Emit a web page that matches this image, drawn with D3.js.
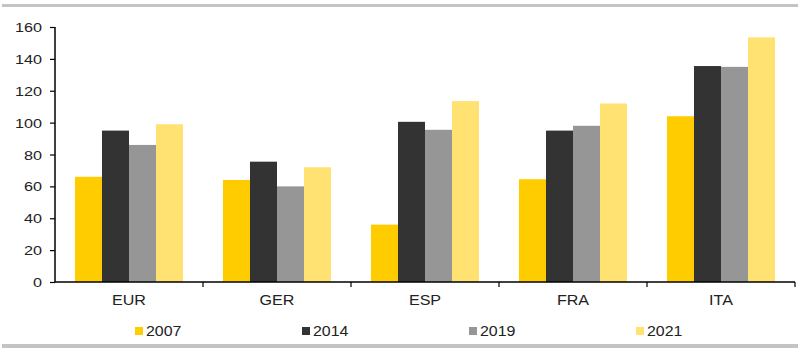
<!DOCTYPE html>
<html>
<head>
<meta charset="utf-8">
<script src="https://cdn.jsdelivr.net/npm/d3@7"></script>
<style>
  html, body { margin: 0; padding: 0; background: #fff; }
  svg { display: block; font-family: "Liberation Sans", Arial, Helvetica, sans-serif; }
</style>
</head>
<body>
<svg id="chart" width="800" height="350"></svg>
<script>
const categories = ["EUR", "GER", "ESP", "FRA", "ITA"];
const seriesNames = ["2007", "2014", "2019", "2021"];
const values2007 = [66, 64, 36, 64.5, 104];
const values2014 = [95, 75.5, 100.5, 95, 135.5];
const values2019 = [86, 60, 95.5, 98, 135];
const values2021 = [99, 72, 113.5, 112, 153.5];
const yTicks = [0, 20, 40, 60, 80, 100, 120, 140, 160];
const colors = ["#FFCC00", "#333333", "#969696", "#FFE271"];

const seriesValues = [values2007, values2014, values2019, values2021];

const svg = d3.select("#chart");
const plotBottom = 282, plotTop = 27, plotLeft = 55, plotRight = 795;

// top and bottom gray rules
svg.append("rect").attr("x", 2).attr("y", 4).attr("width", 796).attr("height", 3).attr("fill", "#c4c4c4");
svg.append("rect").attr("x", 2).attr("y", 344).attr("width", 796).attr("height", 4).attr("fill", "#c4c4c4");

const x0 = d3.scaleBand().domain(categories).range([plotLeft, plotRight]).paddingInner(0).paddingOuter(0);
const groupW = x0.bandwidth() * 0.73;
const x1 = d3.scaleBand().domain(seriesNames).range([0, groupW]).padding(0);
const y = d3.scaleLinear().domain([0, 160]).range([plotBottom, plotTop]);

// bars
seriesNames.forEach((s, si) => {
  svg.append("g").selectAll("rect")
    .data(categories.map((c, ci) => ({ c, v: seriesValues[si][ci] })))
    .join("rect")
    .attr("x", d => x0(d.c) + (x0.bandwidth() - groupW) / 2 + x1(s))
    .attr("y", d => y(d.v))
    .attr("width", x1.bandwidth())
    .attr("height", d => y(0) - y(d.v))
    .attr("fill", colors[si]);
});

// y axis
const yAxis = svg.append("g")
  .attr("transform", `translate(${plotLeft},0)`)
  .call(d3.axisLeft(y).tickValues(yTicks).tickSize(5).tickPadding(8).tickFormat(d3.format("d")));
yAxis.select(".domain").attr("stroke", "#000").attr("stroke-width", 1.5).attr("d", `M0,${plotTop}V${plotBottom}`);
yAxis.selectAll(".tick line").attr("stroke", "#000").attr("stroke-width", 1.2);
yAxis.selectAll("text")
  .attr("font-size", 13.5).attr("fill", "#222")
  .attr("x", null).attr("dy", null)
  .attr("transform", "translate(-13,4.5) scale(1.2,1)");

// x axis with ticks at category boundaries
const xAxisG = svg.append("g").attr("transform", `translate(0,${plotBottom})`);
xAxisG.append("line").attr("x1", plotLeft).attr("x2", plotRight).attr("stroke", "#000").attr("stroke-width", 1.5);
const boundaries = categories.map(c => x0(c) + x0.bandwidth());
xAxisG.selectAll(".bt").data(boundaries).join("line")
  .attr("x1", d => d).attr("x2", d => d).attr("y1", 0).attr("y2", 5)
  .attr("stroke", "#000").attr("stroke-width", 1.2);
xAxisG.selectAll(".xl").data(categories).join("text")
  .attr("transform", d => `translate(${x0(d) + x0.bandwidth() / 2},23) scale(1.15,1)`)
  .attr("text-anchor", "middle")
  .attr("font-size", 14)
  .attr("fill", "#222")
  .text(d => d);

// legend
const legendX = d3.scalePoint().domain(seriesNames).range([135, 636]);
const leg = svg.append("g").selectAll("g").data(seriesNames).join("g")
  .attr("transform", d => `translate(${legendX(d)},327)`);
leg.append("rect").attr("width", 8).attr("height", 8).attr("fill", (d, i) => colors[i]);
leg.append("text").attr("transform", "translate(11,9) scale(1.1,1)").attr("font-size", 14.5).attr("fill", "#222").text(d => d);
</script>
</body>
</html>
